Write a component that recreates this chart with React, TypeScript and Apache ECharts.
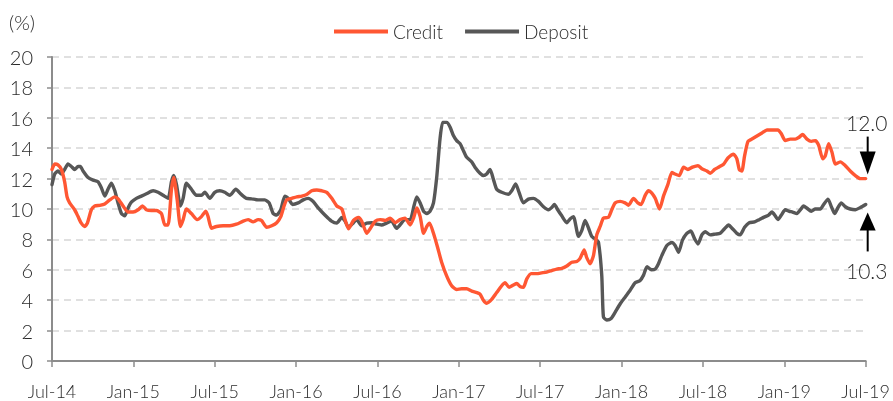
import React, { useEffect, useRef } from "react";
import * as echarts from "echarts";

const xLabels = ["Jul-14", "Jan-15", "Jul-15", "Jan-16", "Jul-16", "Jan-17", "Jul-17", "Jan-18", "Jul-18", "Jan-19", "Jul-19"];
const yTicks = [0, 2, 4, 6, 8, 10, 12, 14, 16, 18, 20];

// months since Jul-14
const creditT = [0, 0.2, 0.44, 0.69, 0.93, 1.11, 1.3, 1.67, 1.92, 2.16, 2.41, 2.61, 2.9, 3.15, 3.52, 3.89, 4.26, 4.63, 4.87, 5.24, 5.61, 5.98, 6.35, 6.67, 6.96, 7.33, 7.7, 8.07, 8.32, 8.56, 8.81, 8.98, 9.23, 9.47, 9.67, 9.91, 10.28, 10.7, 11.02, 11.34, 11.51, 11.76, 12.13, 12.62, 13.11, 13.6, 14.1, 14.46, 14.83, 15.2, 15.45, 15.83, 16.2, 16.57, 16.87, 17.11, 17.31, 17.68, 18.05, 18.42, 18.78, 19.15, 19.52, 19.89, 20.26, 20.63, 21.0, 21.37, 21.61, 21.86, 22.23, 22.6, 22.84, 23.21, 23.46, 23.83, 24.2, 24.57, 24.94, 25.31, 25.66, 26.03, 26.41, 26.66, 26.9, 27.15, 27.4, 27.64, 27.84, 28.13, 28.44, 28.73, 29.1, 29.47, 29.84, 30.21, 30.58, 30.95, 31.32, 31.56, 31.81, 32.05, 32.42, 32.79, 33.16, 33.41, 33.7, 34.02, 34.27, 34.51, 34.76, 35.01, 35.33, 35.74, 36.11, 36.48, 36.85, 37.22, 37.59, 37.96, 38.33, 38.7, 38.94, 39.24, 39.43, 39.68, 39.93, 40.17, 40.42, 40.66, 41.03, 41.28, 41.52, 41.89, 42.26, 42.51, 42.88, 43.2, 43.44, 43.74, 43.99, 44.23, 44.48, 44.8, 45.09, 45.41, 45.71, 45.95, 46.25, 46.57, 46.89, 47.23, 47.63, 47.92, 48.29, 48.54, 48.86, 49.15, 49.52, 49.84, 50.26, 50.5, 50.68, 50.87, 51.07, 51.32, 51.61, 51.98, 52.35, 52.72, 53.09, 53.53, 53.78, 54.07, 54.44, 54.81, 55.06, 55.35, 55.67, 55.99, 56.29, 56.53, 56.83, 57.02, 57.27, 57.51, 57.76, 58.13, 58.5, 58.86, 59.24, 59.61, 60];
const creditV = [12.6, 12.96, 12.9, 12.6, 11.8, 10.8, 10.4, 9.95, 9.5, 9.07, 8.85, 9.07, 9.95, 10.2, 10.24, 10.33, 10.6, 10.8, 10.67, 10.2, 9.8, 9.8, 9.95, 10.2, 9.95, 9.9, 9.9, 9.7, 8.95, 8.95, 11.3, 12.07, 10.6, 8.85, 9.3, 10.0, 9.7, 9.3, 9.5, 9.85, 9.5, 8.73, 8.85, 8.9, 8.9, 9.0, 9.2, 9.3, 9.15, 9.3, 9.25, 8.8, 8.9, 9.1, 9.5, 10.2, 10.6, 10.7, 10.8, 10.85, 10.95, 11.2, 11.25, 11.2, 11.1, 10.7, 10.2, 10.0, 9.3, 8.7, 9.25, 9.45, 9.2, 8.4, 8.7, 9.2, 9.3, 9.25, 9.4, 9.1, 9.3, 9.4, 8.95, 9.4, 10.07, 9.5, 8.4, 8.85, 9.07, 8.4, 7.45, 6.5, 5.6, 4.95, 4.7, 4.75, 4.75, 4.6, 4.5, 4.4, 4.0, 3.8, 4.05, 4.5, 4.95, 5.15, 4.85, 5.0, 5.1, 4.9, 4.85, 5.4, 5.75, 5.75, 5.8, 5.85, 5.95, 6.05, 6.1, 6.25, 6.5, 6.55, 6.75, 7.3, 6.8, 6.4, 6.95, 8.3, 8.85, 9.4, 9.45, 9.96, 10.4, 10.5, 10.4, 10.25, 10.7, 10.4, 10.3, 10.9, 11.2, 11.05, 10.7, 10.0, 10.85, 11.6, 12.4, 12.3, 12.2, 12.75, 12.6, 12.75, 12.85, 12.65, 12.5, 12.35, 12.6, 12.75, 12.95, 13.35, 13.6, 13.3, 12.6, 12.5, 13.5, 14.45, 14.6, 14.8, 15.0, 15.2, 15.2, 15.2, 14.95, 14.5, 14.6, 14.6, 14.7, 14.9, 14.6, 14.45, 14.5, 14.2, 13.3, 13.5, 14.3, 13.75, 12.95, 13.1, 12.85, 12.5, 12.2, 12.0, 12.0];

const depositT = [0, 0.2, 0.44, 0.69, 0.93, 1.18, 1.43, 1.67, 1.92, 2.09, 2.29, 2.66, 3.03, 3.39, 3.64, 3.89, 4.13, 4.38, 4.63, 4.87, 5.12, 5.36, 5.61, 5.85, 6.22, 6.59, 6.96, 7.45, 7.82, 8.19, 8.56, 8.81, 8.98, 9.18, 9.47, 9.67, 9.91, 10.28, 10.65, 11.02, 11.27, 11.64, 12.0, 12.37, 12.74, 13.11, 13.55, 13.97, 14.34, 14.71, 15.2, 15.69, 16.01, 16.31, 16.57, 16.87, 17.17, 17.42, 17.74, 18.15, 18.52, 18.89, 19.26, 19.63, 20.12, 20.61, 21.0, 21.37, 21.61, 21.86, 22.23, 22.46, 22.84, 23.21, 23.57, 23.95, 24.3, 24.67, 25.04, 25.41, 25.66, 26.03, 26.41, 26.69, 26.9, 27.15, 27.4, 27.64, 27.87, 28.13, 28.38, 28.61, 28.81, 29.1, 29.35, 29.59, 29.84, 30.09, 30.33, 30.58, 30.95, 31.19, 31.56, 31.81, 32.05, 32.3, 32.55, 32.79, 33.16, 33.65, 33.9, 34.19, 34.44, 34.76, 35.13, 35.5, 35.87, 36.24, 36.61, 36.85, 37.05, 37.29, 37.59, 37.96, 38.2, 38.45, 38.82, 39.07, 39.31, 39.56, 39.8, 40.1, 40.3, 40.54, 40.66, 40.91, 41.23, 41.52, 41.89, 42.26, 42.63, 43.0, 43.37, 43.62, 43.88, 44.2, 44.48, 44.72, 44.97, 45.34, 45.71, 45.95, 46.2, 46.49, 46.81, 47.11, 47.38, 47.63, 47.92, 48.17, 48.54, 48.91, 49.27, 49.59, 49.89, 50.18, 50.5, 50.74, 51.07, 51.41, 51.81, 52.15, 52.47, 52.84, 53.09, 53.33, 53.53, 53.78, 54.07, 54.37, 54.61, 54.93, 55.18, 55.42, 55.67, 55.99, 56.29, 56.65, 56.9, 57.22, 57.47, 57.71, 57.96, 58.2, 58.5, 58.86, 59.24, 59.61, 60];
const depositV = [11.6, 12.3, 12.5, 12.3, 12.6, 12.96, 12.8, 12.6, 12.8, 12.8, 12.5, 12.07, 11.9, 11.8, 11.4, 10.85, 11.3, 11.7, 11.2, 10.4, 9.7, 9.55, 10.07, 10.45, 10.7, 10.85, 11.0, 11.2, 11.1, 10.9, 10.7, 11.8, 12.2, 11.6, 10.2, 10.7, 11.7, 11.3, 10.9, 10.9, 11.1, 10.7, 11.1, 11.2, 11.1, 10.9, 11.3, 10.95, 10.7, 10.67, 10.6, 10.6, 10.4, 9.7, 9.6, 9.96, 10.85, 10.7, 10.3, 10.4, 10.6, 10.7, 10.5, 10.07, 9.6, 9.2, 9.07, 9.45, 9.2, 8.8, 9.1, 9.3, 8.9, 9.07, 9.1, 9.0, 8.95, 9.07, 9.2, 8.73, 8.95, 9.3, 9.3, 10.2, 10.8, 10.4, 9.85, 9.7, 9.85, 10.4, 12.2, 14.6, 15.7, 15.7, 15.4, 14.85, 14.5, 14.3, 13.85, 13.4, 13.1, 12.75, 12.35, 12.2, 12.3, 12.6, 11.95, 11.3, 11.1, 10.97, 11.2, 11.65, 11.1, 10.4, 10.65, 10.7, 10.5, 10.15, 9.95, 10.1, 10.3, 9.95, 9.55, 9.1, 9.35, 9.5, 8.2, 8.6, 9.25, 8.75, 8.2, 8.0, 7.8, 5.6, 2.9, 2.7, 2.8, 3.2, 3.75, 4.2, 4.65, 5.15, 5.3, 5.65, 6.2, 6.0, 6.05, 6.4, 6.95, 7.6, 7.8, 7.6, 7.15, 7.95, 8.4, 8.55, 8.05, 7.7, 8.3, 8.5, 8.3, 8.35, 8.4, 8.7, 8.95, 8.7, 8.4, 8.3, 8.8, 9.1, 9.15, 9.3, 9.45, 9.6, 9.8, 9.55, 9.3, 9.6, 9.95, 9.85, 9.8, 9.7, 9.95, 10.2, 10.05, 9.85, 10.0, 10.0, 10.3, 10.65, 10.15, 9.7, 10.1, 10.4, 10.15, 10.0, 9.95, 10.1, 10.3];

const CREDIT = "#FF5733";
const DEPOSIT = "#575757";
const FONT = "Lato";
const TEXT = "#2b2b2b";

export default function App() {
  const ref = useRef<HTMLDivElement>(null);

  useEffect(() => {
    if (!ref.current) return;
    const chart = echarts.init(ref.current, null, { renderer: "svg" });
    const creditData = creditT.map((t, i) => [t, creditV[i]]);
    const depositData = depositT.map((t, i) => [t, depositV[i]]);

    chart.setOption({
      animation: false,
      textStyle: { fontFamily: FONT, fontWeight: 300 },
      grid: { left: 52, right: 25, top: 57, bottom: 40 },
      legend: {
        left: 329,
        top: 17,
        icon: "rect",
        itemWidth: 54,
        itemHeight: 4,
        itemGap: 22,
        textStyle: { fontFamily: FONT, fontWeight: 300, fontSize: 19, color: TEXT },
        data: ["Credit", "Deposit"],
      },
      xAxis: {
        type: "value",
        min: 0,
        max: 60,
        interval: 6,
        axisLine: { lineStyle: { color: "#8c8c8c", width: 2 } },
        axisTick: { show: true, length: 6, lineStyle: { color: "#8c8c8c", width: 1.5 } },
        axisLabel: {
          margin: 21,
          fontFamily: FONT,
          fontWeight: 300,
          fontSize: 18,
          color: TEXT,
          formatter: (v: number) => xLabels[Math.round(v / 6)] ?? "",
        },
        splitLine: { show: false },
      },
      yAxis: {
        type: "value",
        min: yTicks[0],
        max: yTicks[yTicks.length - 1],
        interval: 2,
        axisLine: { show: true, lineStyle: { color: "#8c8c8c", width: 2 } },
        axisTick: { show: true, length: 5, lineStyle: { color: "#8c8c8c", width: 1.5 } },
        axisLabel: { margin: 19, fontFamily: FONT, fontWeight: 300, fontSize: 20, color: TEXT },
        splitLine: { show: true, lineStyle: { color: "#d6d6d6", width: 1.5, type: [7, 5] } },
      },
      series: [
        {
          name: "Credit",
          type: "line",
          data: creditData,
          showSymbol: false,
          smooth: 0.2,
          lineStyle: { color: CREDIT, width: 3.4, join: "round", cap: "round" },
          itemStyle: { color: CREDIT },
          z: 3,
        },
        {
          name: "Deposit",
          type: "line",
          data: depositData,
          showSymbol: false,
          smooth: 0.2,
          lineStyle: { color: DEPOSIT, width: 3.4, join: "round", cap: "round" },
          itemStyle: { color: DEPOSIT },
          z: 2,
        },
      ],
    });

    const lastC = creditV[creditV.length - 1];
    const lastD = depositV[depositV.length - 1];
    const pc = chart.convertToPixel({ gridIndex: 0 }, [creditT[creditT.length - 1], lastC]) as number[];
    const pd = chart.convertToPixel({ gridIndex: 0 }, [depositT[depositT.length - 1], lastD]) as number[];
    const ax = pc[0] + 2;

    chart.setOption({
      graphic: [
        { type: "text", left: 9, top: 12, style: { text: "(%)", fontFamily: FONT, fontWeight: 300, fontSize: 20, fill: TEXT } },
        // credit annotation (down arrow)
        { type: "text", x: ax - 1, y: pc[1] - 56, style: { text: lastC.toFixed(1), fontFamily: FONT, fontWeight: 300, fontSize: 21, fill: TEXT, align: "center", verticalAlign: "middle" } },
        { type: "rect", shape: { x: ax - 1, y: pc[1] - 42, width: 2, height: 18 }, style: { fill: "#000" } },
        { type: "polygon", shape: { points: [[ax - 8, pc[1] - 27], [ax + 8, pc[1] - 27], [ax, pc[1] - 4]] }, style: { fill: "#000" } },
        // deposit annotation (up arrow)
        { type: "polygon", shape: { points: [[ax, pd[1] + 8], [ax - 8, pd[1] + 26], [ax + 8, pd[1] + 26]] }, style: { fill: "#000" } },
        { type: "rect", shape: { x: ax - 1, y: pd[1] + 24, width: 2, height: 23 }, style: { fill: "#000" } },
        { type: "text", x: ax - 1, y: pd[1] + 66, style: { text: lastD.toFixed(1), fontFamily: FONT, fontWeight: 300, fontSize: 21, fill: TEXT, align: "center", verticalAlign: "middle" } },
      ],
    });

    return () => chart.dispose();
  }, []);

  return <div ref={ref} style={{ position: "fixed", left: 0, top: 0, width: 893, height: 401 }} />;
}
